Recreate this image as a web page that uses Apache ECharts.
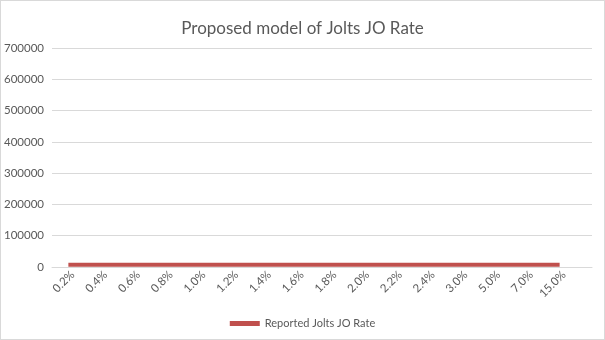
<!DOCTYPE html>
<html>
<head>
<meta charset="utf-8">
<script src="https://cdn.jsdelivr.net/npm/echarts@6/dist/echarts.min.js"></script>
<style>
html,body{margin:0;padding:0;background:#fff;}
#c{width:603px;height:338px;border:1px solid #d9d9d9;}
</style>
</head>
<body>
<div id="c"></div>
<script>
var titleText = 'Proposed model of Jolts JO Rate';
var seriesName = 'Reported Jolts JO Rate';
var categories = ['0.2%','0.4%','0.6%','0.8%','1.0%','1.2%','1.4%','1.6%','1.8%','2.0%','2.2%','2.4%','3.0%','5.0%','7.0%','15.0%'];
var values = [6800,6800,6800,6800,6800,6800,6800,6800,6800,6800,6800,6800,6800,6800,6800,6800];
var yMin = 0, yMax = 700000, yInterval = 100000;

var chart = echarts.init(document.getElementById('c'));
var font = 'Lato, "Open Sans", sans-serif';
chart.setOption({
  animation: false,
  title: {text: titleText, left: 'center', top: 14,
    textStyle: {fontFamily: font, fontSize: 17, fontWeight: 'normal', color: '#595959'}},
  legend: {bottom: 5, left: 'center', icon: 'rect', itemWidth: 30, itemHeight: 5, itemGap: 5,
    textStyle: {fontFamily: font, fontSize: 11, color: '#595959'},
    data: [seriesName]},
  grid: [
    {left: 51, right: 28, top: 47, bottom: 72},
    {left: 51, right: 12, top: 47, bottom: 72}
  ],
  xAxis: [
    {type: 'category', gridIndex: 0, data: categories, boundaryGap: true,
      axisLine: {show: false}, axisTick: {show: false},
      axisLabel: {rotate: 45, interval: 0, margin: 10, padding: [0, -6, 0, 0], fontFamily: font, fontSize: 11.5, color: '#595959'}},
    {type: 'category', gridIndex: 1, data: [''], 
      axisLine: {show: true, lineStyle: {color: '#d9d9d9', width: 1}}, axisTick: {show: false},
      axisLabel: {show: false}}
  ],
  yAxis: [
    {type: 'value', gridIndex: 0, min: yMin, max: yMax, interval: yInterval, show: false,
      splitLine: {show: false}},
    {type: 'value', gridIndex: 1, min: yMin, max: yMax, interval: yInterval,
      axisLine: {show: false}, axisTick: {show: false},
      axisLabel: {margin: 8, fontFamily: font, fontSize: 11.5, color: '#595959',
        formatter: function (v) { return String(v); }},
      splitLine: {lineStyle: {color: '#d9d9d9', width: 1}}}
  ],
  series: [{
    name: seriesName, type: 'line', xAxisIndex: 0, yAxisIndex: 0, data: values,
    showSymbol: false, symbol: 'none', z: 5,
    lineStyle: {color: '#C0504D', width: 4, cap: 'butt'},
    itemStyle: {color: '#C0504D'}
  }]
});
</script>
</body>
</html>
